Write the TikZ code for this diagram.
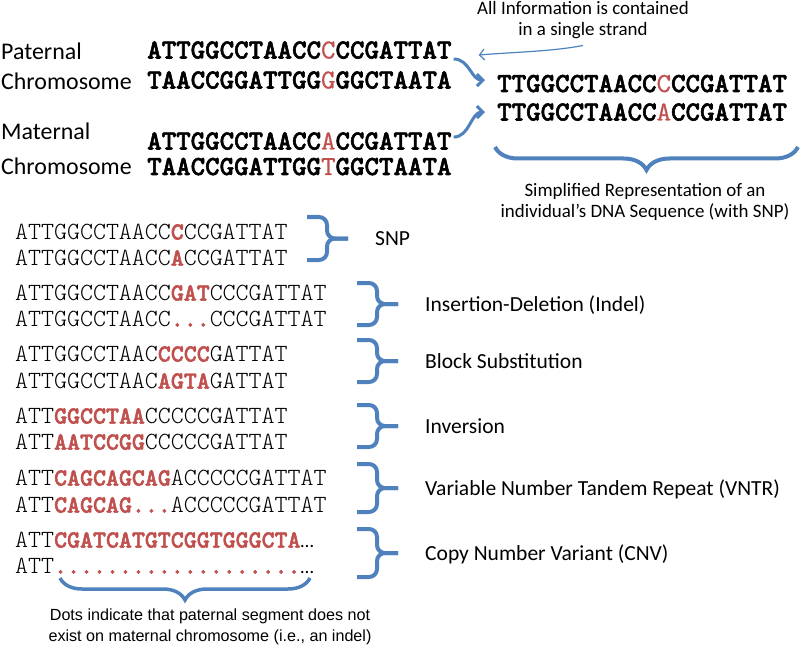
\documentclass[tikz,border=0pt]{standalone}
\usepackage{fontspec}
\setmainfont{Carlito}
\newfontfamily\notefont{Liberation Sans}
\newfontfamily\strandfont{lmmonolt10-regular.otf}[BoldFont=lmmonolt10-bold.otf,BoldFeatures={FakeBold=2}]
\newfontfamily\strandmid{lmmono10-regular.otf}[FakeBold=0.6]
\usetikzlibrary{arrows.meta,decorations.pathreplacing}
\definecolor{braceblue}{RGB}{79,129,189}
\definecolor{snpred}{RGB}{192,80,77}
\newcommand{\mut}[1]{\textcolor{snpred}{\bfseries #1}}
\newcommand{\mutlight}[1]{\textcolor{snpred}{\strandmid #1}}
\newcommand{\indelgap}{\mut{...}}
\newcommand{\cnvgap}{\mut{...................}}
\newcommand{\trail}{{\rmfamily\mdseries\fontsize{19}{19}\selectfont …}}

\begin{document}
\begin{tikzpicture}
[x=1bp,y=-1bp,
  strandTop/.style={anchor=base west,inner sep=0pt,font=\fontsize{27.7}{30}\strandfont\bfseries},
  strandLow/.style={anchor=base west,inner sep=0pt,font=\fontsize{24.8}{28}\strandfont},
  chromLabel/.style={anchor=base west,inner sep=0pt,font=\fontsize{24}{28}\selectfont},
  kindLabel/.style={anchor=base west,inner sep=0pt,font=\fontsize{21.6}{26}\selectfont},
  noteText/.style={anchor=base,inner sep=0pt,align=center,font=\fontsize{19}{22}\selectfont},
  braceLine/.style={draw=braceblue,line width=4bp,rounded corners=8bp},
  bigBrace/.style={draw=braceblue,line width=4bp,decorate,decoration={brace,amplitude=#1}},
  strandArrow/.style={draw=braceblue,line width=3bp,-{Straight Barb[length=6bp,width=12bp]}},
  noteArrow/.style={draw=braceblue,line width=1.2bp,-{Straight Barb[length=5bp,width=11bp]}}]
\useasboundingbox (0,0) rectangle (800,647);
%% chromosome labels
\foreach \nodename/\y/\word in {
  patLabel/60/Paternal, patLabelB/90/Chromosome,
  matLabel/140/Maternal, matLabelB/175/Chromosome}
{
  \node[chromLabel] (\nodename) at (1,\y) {\word};
}
%% both chromosomes, two strands each
\foreach \nodename/\y/\seq in {
  patA/58.5/{ATTGGCCTAACC\mutlight{C}CCGATTAT},
  patB/88.5/{TAACCGGATTGG\mutlight{G}GGCTAATA},
  matA/149.5/{ATTGGCCTAACC\mutlight{A}CCGATTAT},
  matB/175/{TAACCGGATTGG\mutlight{T}GGCTAATA}}
{
  \node[strandTop] (\nodename) at (147,\y) {\seq};
}
%% one strand per chromosome
\node[strandTop] (simpA) at (497,92) {TTGGCCTAACC\mutlight{C}CCGATTAT};
\node[strandTop] (simpB) at (497,120.5) {TTGGCCTAACC\mutlight{A}CCGATTAT};
\node[noteText] (note) at (583,36) {All Information is contained\\in a single strand};
\node[noteText] (simpNote) at (645,218) {Simplified Representation of an\\individual’s DNA Sequence (with SNP)};
\draw[noteArrow] ([yshift=-6bp]note.south) .. controls +(-30,6) and +(35,-3) .. ([xshift=27bp,yshift=-5bp]patA.east);
\draw[strandArrow] ([xshift=2bp]patA.south east) .. controls +(16,0) and +(-14,0) .. ([xshift=-12bp,yshift=3.5bp]simpA.west);
\draw[strandArrow] ([xshift=2bp,yshift=4bp]matA.east) .. controls +(16,0) and +(-14,0) .. ([xshift=-12bp]simpB.west);
\draw[bigBrace=23bp] (798,147) -- (495,147);
%% variant examples
\foreach \nodename/\y/\seq in {
  snpP/239.6/{ATTGGCCTAACC\mut{C}CCGATTAT},
  snpM/265.6/{ATTGGCCTAACC\mut{A}CCGATTAT},
  indelP/300.6/{ATTGGCCTAACC\mut{GAT}CCCGATTAT},
  indelM/326.6/{ATTGGCCTAACC\indelgap CCCGATTAT},
  blockP/361.6/{ATTGGCCTAAC\mut{CCCC}GATTAT},
  blockM/388.6/{ATTGGCCTAAC\mut{AGTA}GATTAT},
  invP/423.6/{ATT\mut{GGCCTAA}CCCCCGATTAT},
  invM/449.6/{ATT\mut{AATCCGG}CCCCCGATTAT},
  vntrP/485.6/{ATT\mut{CAGCAGCAG}ACCCCCGATTAT},
  vntrM/512.6/{ATT\mut{CAGCAG}\indelgap ACCCCCGATTAT},
  cnvP/547.6/{ATT\mut{CGATCATGTCGGTGGGCTA}\trail},
  cnvM/573.6/{ATT\cnvgap\trail}}
{
  \node[strandLow] (\nodename) at (15,\y) {\seq};
}
%% braces and variant names
\foreach \kindname/\xl/\ytop/\ybot/\xlabel/\kind in {
  snpKind/307/217/260/375/SNP,
  indelKind/357/283/325/425/Insertion-Deletion (Indel),
  blockKind/357/340/382/425/Block Substitution,
  invKind/357/405/447/425/Inversion,
  vntrKind/357/464/512/425/Variable Number Tandem Repeat (VNTR),
  cnvKind/357/529/577/425/Copy Number Variant (CNV)}
{
  \pgfmathsetmacro\ymid{(\ytop+\ybot)/2}
  \draw[braceLine] (\xl,\ytop) -- (\xl+20,\ytop) -- (\xl+20,\ymid) -- (\xl+41,\ymid);
  \draw[braceLine] (\xl,\ybot) -- (\xl+20,\ybot) -- (\xl+20,\ymid) -- (\xl+41,\ymid);
  \node[kindLabel] (\kindname) at (\xlabel,\ymid+7) {\kind};
}
\draw[bigBrace=22bp,line width=3.5bp] (310,578) -- (60,578);
\node[noteText,font=\notefont\fontsize{16.2}{20.5}\selectfont] (dotNote) at (210,641) {Dots indicate that paternal segment does not\\exist on maternal chromosome (i.e., an indel)};
\end{tikzpicture}
\end{document}
